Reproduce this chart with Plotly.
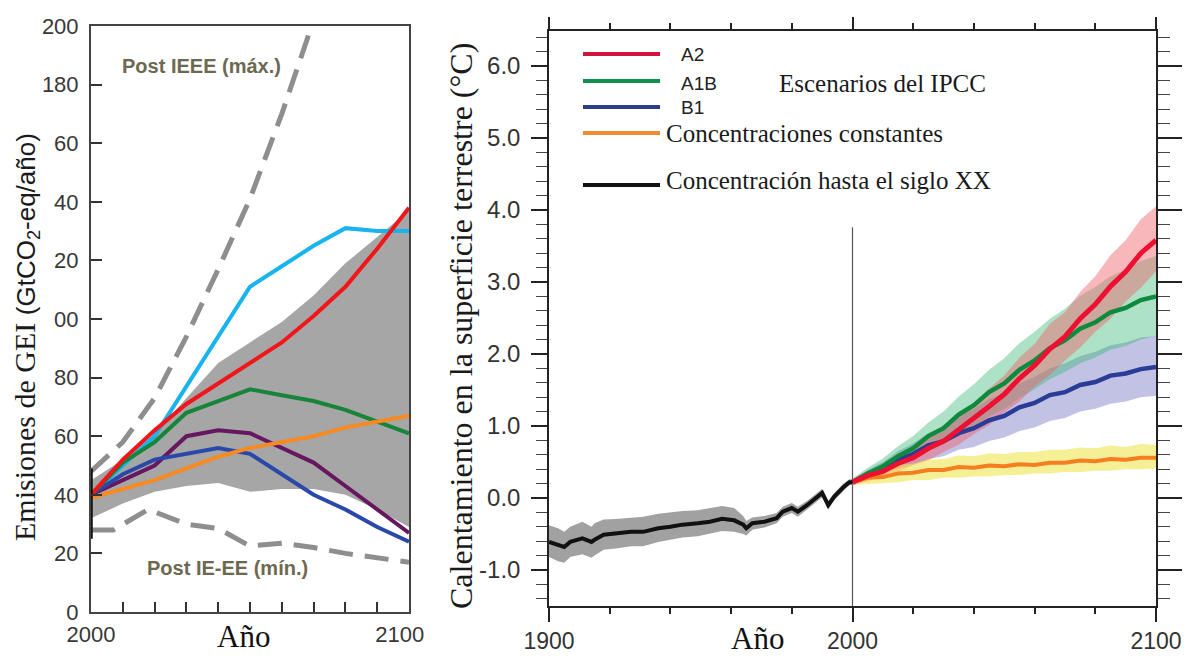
import plotly.graph_objects as go

W, H = 1190, 658


def px(x):
    return x / W


def py(y):
    return 1 - y / H


# ---------------- Left panel data (GtCO2-eq / year) ----------------
years_l = [2000, 2010, 2020, 2030, 2040, 2050, 2060, 2070, 2080, 2090, 2100]
cyan_l = [40, 50, 60, 77, 94, 111, 118, 125, 131, 130, 130]
red_l = [40, 52, 62, 71, 78, 85, 92, 101, 111, 124, 138]
green_l = [40, 51, 58, 68, 72, 76, 74, 72, 69, 65, 61]
purple_l = [40, 45, 50, 60, 62, 61, 56, 51, 43, 35, 27]
blue_l = [40, 47, 52, 54, 56, 54, 47, 40, 35, 29, 24]
orange_l = [39, 42, 45, 49, 53, 56, 58, 60, 63, 65, 67]
band_up_l = [45, 52, 61, 73, 85, 92, 99, 108, 119, 128, 137]
band_lo_l = [32, 37, 41, 43, 44, 41, 42, 42, 40, 35, 29]
years_dmax = [2000, 2010, 2020, 2030, 2040, 2050, 2060, 2070]
dash_max = [48, 58, 73, 94, 117, 141, 170, 202]
years_dmin = [2000, 2007, 2018, 2030, 2040, 2050, 2060, 2070, 2080, 2090, 2100]
dash_min = [28, 28, 35, 30, 28.5, 22.5, 23.5, 22, 20, 18.5, 17]
bar2000_year = [2000, 2000]
bar2000_val = [25, 49]
xticks_l = [2000, 2100]
xticktext_l = ["2000", "2100\u00a0\u00a0\u00a0"]
yticks_l = [0, 20, 40, 60, 80, 100, 120, 140, 160, 180, 200]
yticktext_l = ["0", "20", "40", "60", "80", "00", "20", "40", "60", "180", "200"]

# ---------------- Right panel data (°C) ----------------
years_h = [1900, 1903, 1905, 1907, 1911, 1914, 1915, 1918, 1922, 1927, 1931, 1936, 1940,
           1944, 1949, 1953, 1957, 1961, 1964, 1965, 1967, 1971, 1975, 1977, 1980, 1982,
           1985, 1988, 1990, 1992, 1994, 1997, 1999, 2000]
hist_m = [-0.61, -0.65, -0.68, -0.61, -0.56, -0.61, -0.58, -0.51, -0.49, -0.47, -0.47, -0.42,
          -0.40, -0.37, -0.35, -0.33, -0.29, -0.31, -0.37, -0.42, -0.35, -0.33, -0.28, -0.19,
          -0.14, -0.19, -0.10, 0.0, 0.07, -0.10, 0.02, 0.15, 0.22, 0.22]
hist_u = [-0.38, -0.42, -0.47, -0.40, -0.33, -0.40, -0.35, -0.30, -0.29, -0.27, -0.26, -0.22,
          -0.20, -0.18, -0.17, -0.14, -0.11, -0.14, -0.25, -0.32, -0.27, -0.25, -0.21, -0.12,
          -0.07, -0.12, -0.04, 0.06, 0.13, -0.04, 0.07, 0.20, 0.26, 0.26]
hist_lo = [-0.82, -0.88, -0.90, -0.82, -0.78, -0.83, -0.80, -0.72, -0.70, -0.67, -0.67, -0.61,
           -0.58, -0.55, -0.53, -0.50, -0.46, -0.47, -0.50, -0.52, -0.44, -0.41, -0.35, -0.26,
           -0.21, -0.26, -0.16, -0.06, 0.01, -0.16, -0.03, 0.10, 0.18, 0.18]

years_f = [2000, 2005, 2010, 2015, 2020, 2025, 2030, 2035, 2040, 2045, 2050,
           2055, 2060, 2065, 2070, 2075, 2080, 2085, 2090, 2095, 2100]
a2_m = [0.22, 0.31, 0.37, 0.48, 0.56, 0.69, 0.79, 0.95, 1.09, 1.27, 1.44, 1.66, 1.84, 2.07,
        2.24, 2.49, 2.69, 2.94, 3.14, 3.40, 3.58]
a2_u = [0.26, 0.38, 0.46, 0.59, 0.69, 0.85, 0.97, 1.15, 1.32, 1.52, 1.70, 1.95, 2.14, 2.42,
        2.58, 2.86, 3.08, 3.37, 3.58, 3.87, 4.05]
a2_lo = [0.18, 0.23, 0.31, 0.36, 0.46, 0.52, 0.64, 0.74, 0.89, 1.01, 1.19, 1.34, 1.55, 1.71,
         1.91, 2.09, 2.31, 2.49, 2.73, 2.92, 3.15]
a1b_m = [0.22, 0.34, 0.44, 0.58, 0.69, 0.86, 0.97, 1.16, 1.29, 1.47, 1.59, 1.78, 1.91, 2.08,
         2.19, 2.35, 2.44, 2.58, 2.64, 2.75, 2.80]
a1b_u = [0.27, 0.42, 0.55, 0.72, 0.86, 1.05, 1.20, 1.41, 1.58, 1.78, 1.94, 2.15, 2.31, 2.49,
         2.63, 2.81, 2.93, 3.08, 3.17, 3.29, 3.36]
a1b_lo = [0.17, 0.26, 0.33, 0.44, 0.52, 0.65, 0.74, 0.89, 1.00, 1.14, 1.24, 1.39, 1.51, 1.65,
          1.75, 1.87, 1.95, 2.06, 2.11, 2.20, 2.25]
b1_m = [0.22, 0.33, 0.41, 0.53, 0.61, 0.73, 0.79, 0.90, 0.97, 1.08, 1.14, 1.26, 1.32, 1.43,
        1.47, 1.57, 1.61, 1.70, 1.73, 1.79, 1.82]
b1_u = [0.26, 0.39, 0.50, 0.65, 0.76, 0.90, 1.00, 1.14, 1.24, 1.37, 1.46, 1.59, 1.68, 1.80,
        1.87, 1.97, 2.03, 2.12, 2.16, 2.23, 2.25]
b1_lo = [0.18, 0.27, 0.32, 0.41, 0.46, 0.54, 0.58, 0.67, 0.71, 0.79, 0.84, 0.93, 0.98, 1.07,
         1.11, 1.20, 1.24, 1.31, 1.34, 1.40, 1.42]
const_m = [0.22, 0.28, 0.29, 0.34, 0.35, 0.39, 0.39, 0.43, 0.42, 0.45, 0.44, 0.47, 0.46, 0.49,
           0.49, 0.52, 0.51, 0.54, 0.53, 0.56, 0.56]
const_u = [0.26, 0.36, 0.39, 0.46, 0.48, 0.53, 0.54, 0.59, 0.58, 0.62, 0.61, 0.64, 0.64, 0.67,
           0.67, 0.70, 0.69, 0.73, 0.71, 0.75, 0.74]
const_lo = [0.18, 0.19, 0.21, 0.22, 0.25, 0.25, 0.28, 0.28, 0.30, 0.30, 0.32, 0.32, 0.34, 0.34,
            0.36, 0.36, 0.38, 0.38, 0.40, 0.40, 0.41]

yticks_r = [-1, 0, 1, 2, 3, 4, 5, 6]
yticktext_r = ["-1.0", "0.0", "1.0", "2.0", "3.0", "4.0", "5.0", "6.0"]
xticks_r = [1900, 2000, 2100]
xticktext_r = ["1900", "2000", "2100"]

fig = go.Figure()


def band(xs, up, lo, color, xa, ya):
    fig.add_trace(go.Scatter(x=list(xs) + list(xs)[::-1], y=list(up) + list(lo)[::-1],
                             fill="toself", fillcolor=color, line=dict(width=0),
                             mode="lines", hoverinfo="skip", xaxis=xa, yaxis=ya))


def line(xs, ys, color, width, xa, ya, dash=None):
    fig.add_trace(go.Scatter(x=xs, y=ys, mode="lines",
                             line=dict(color=color, width=width, dash=dash),
                             hoverinfo="skip", xaxis=xa, yaxis=ya))


# ---- left panel ----
band(years_l, band_up_l, band_lo_l, "#a6a6a6", "x", "y")
line(years_dmax, dash_max, "#8e8e8e", 5, "x", "y", dash="24px,12px")
line(years_dmin, dash_min, "#8e8e8e", 5, "x", "y", dash="24px,12px")
line(years_l, cyan_l, "#19b4ee", 4, "x", "y")
line(years_l, purple_l, "#66175f", 4, "x", "y")
line(years_l, blue_l, "#2a48aa", 4, "x", "y")
line(years_l, green_l, "#17843a", 4, "x", "y")
line(years_l, orange_l, "#f78a22", 4, "x", "y")
line(years_l, red_l, "#f0161a", 4, "x", "y")
line(bar2000_year, bar2000_val, "#111111", 3.5, "x", "y")

# ---- right panel ----
band(years_h, hist_u, hist_lo, "rgba(125,125,125,0.72)", "x2", "y2")
band(years_f, b1_u, b1_lo, "rgba(120,120,195,0.45)", "x2", "y2")
band(years_f, a1b_u, a1b_lo, "rgba(60,185,120,0.42)", "x2", "y2")
band(years_f, a2_u, a2_lo, "rgba(240,95,105,0.45)", "x2", "y2")
band(years_f, const_u, const_lo, "rgba(238,228,80,0.6)", "x2", "y2")
line(years_f, const_m, "#f57f20", 4, "x2", "y2")
line(years_f, b1_m, "#2a3c96", 4.5, "x2", "y2")
line(years_f, a1b_m, "#0e8a3e", 4.5, "x2", "y2")
line(years_f, a2_m, "#ee1030", 5, "x2", "y2")
line(years_h, hist_m, "#111111", 4, "x2", "y2")

# invisible trace so the mirrored top/right axes of the right panel exist
fig.add_trace(go.Scatter(x=[1900], y=[0], mode="markers", marker=dict(opacity=0),
                         hoverinfo="skip", xaxis="x3", yaxis="y3"))

tickfont_l = dict(family="Liberation Sans", size=22, color="#383838")
tickfont_r = dict(family="Liberation Sans", size=24, color="#333333")
tickfont_rx = dict(family="Liberation Sans", size=23, color="#333333")

fig.update_layout(
    template="none",
    width=W, height=H, margin=dict(l=0, r=0, t=0, b=0, pad=0, autoexpand=False),
    paper_bgcolor="white", plot_bgcolor="white", showlegend=False,
    font=dict(family="Liberation Sans", color="#333"),
    xaxis=dict(domain=[px(91), px(409)], range=[2000, 2100], anchor="y", automargin=False,
               tickmode="array", tickvals=xticks_l, ticktext=xticktext_l,
               ticks="inside", ticklen=10, tickwidth=2, tickcolor="#333",
               minor=dict(tickmode="linear", tick0=2000, dtick=10, ticklen=10, tickwidth=2,
                          tickcolor="#333", ticks="inside", showgrid=False),
               showline=True, linecolor="#444", linewidth=2, mirror=True,
               showgrid=False, zeroline=False, tickfont=tickfont_l, ticklabelstandoff=2),
    yaxis=dict(domain=[py(612), py(26)], range=[0, 200], anchor="x", automargin=False,
               tickmode="array", tickvals=yticks_l, ticktext=yticktext_l,
               ticks="inside", ticklen=11, tickwidth=2, tickcolor="#333",
               showline=True, linecolor="#444", linewidth=2, mirror=True,
               showgrid=False, zeroline=False, tickfont=tickfont_l, ticklabelstandoff=6),
    xaxis2=dict(domain=[px(549), px(1156)], range=[1900, 2100], anchor="y2", automargin=False,
                tickmode="array", tickvals=xticks_r, ticktext=xticktext_r,
                ticks="outside", ticklen=14, tickwidth=2, tickcolor="#222",
                minor=dict(tickmode="linear", tick0=1900, dtick=20, ticklen=6,
                           tickwidth=1.5, tickcolor="#222", ticks="outside", showgrid=False),
                showline=True, linecolor="#222", linewidth=1.5,
                showgrid=False, zeroline=False, tickfont=tickfont_rx, ticklabelstandoff=0),
    xaxis3=dict(overlaying="x2", side="top", anchor="y2", range=[1900, 2100], automargin=False,
                tickmode="array", tickvals=xticks_r, showticklabels=False,
                ticks="outside", ticklen=12, tickwidth=2, tickcolor="#222",
                minor=dict(tickmode="linear", tick0=1900, dtick=20, ticklen=6,
                           tickwidth=1.5, tickcolor="#222", ticks="outside", showgrid=False),
                showline=True, linecolor="#222", linewidth=1.5,
                showgrid=False, zeroline=False),
    yaxis2=dict(domain=[py(606), py(31)], range=[-1.5, 6.486], anchor="x2", automargin=False,
                tickmode="array", tickvals=yticks_r, ticktext=yticktext_r,
                ticks="outside", ticklen=16, tickwidth=1.5, tickcolor="#222",
                minor=dict(tickmode="linear", tick0=0, dtick=0.2, ticklen=11,
                           tickwidth=1.2, tickcolor="#444", ticks="outside", showgrid=False),
                showline=True, linecolor="#222", linewidth=1.5,
                showgrid=False, zeroline=False, tickfont=tickfont_r, ticklabelstandoff=6),
    yaxis3=dict(overlaying="y2", side="right", anchor="x2", range=[-1.5, 6.486],
                automargin=False,
                tickmode="array", tickvals=yticks_r, showticklabels=False,
                ticks="outside", ticklen=24, tickwidth=1.5, tickcolor="#222",
                minor=dict(tickmode="linear", tick0=0, dtick=0.2, ticklen=12,
                           tickwidth=1.2, tickcolor="#444", ticks="outside", showgrid=False),
                showline=True, linecolor="#222", linewidth=1.5,
                showgrid=False, zeroline=False),
)

# vertical marker at year 2000 in right panel
fig.add_shape(type="line", xref="x2", yref="y2", x0=2000, x1=2000, y0=-1.5, y1=3.76,
              line=dict(color="#555", width=1.2), layer="below")

# legend samples (right panel)
legend_items = [("#d0143c", 54), ("#109050", 81), ("#2c3c8c", 107), ("#f08a30", 133), ("#111111", 185)]
for col, yy in legend_items:
    fig.add_shape(type="line", xref="paper", yref="paper", x0=px(583), x1=px(660),
                  y0=py(yy), y1=py(yy), line=dict(color=col, width=4))

serif = "Liberation Serif"
ann = []


def add_text(text, x, y, size, family, color="#1a1a1a", xanchor="center", angle=0):
    ann.append(dict(text=text, x=px(x), y=py(y), xref="paper", yref="paper",
                    showarrow=False, xanchor=xanchor, yanchor="middle", textangle=angle,
                    font=dict(size=size, family=family, color=color)))


add_text("A2", 679, 55, 19, "Liberation Sans", "#222", "left")
add_text("A1B", 679, 83, 19, "Liberation Sans", "#222", "left")
add_text("B1", 679, 107, 19, "Liberation Sans", "#222", "left")
add_text("Escenarios del IPCC", 777, 83, 25, serif, "#1a1a1a", "left")
add_text("Concentraciones constantes", 664, 133, 25, serif, "#1a1a1a", "left")
add_text("Concentración hasta el siglo XX", 664, 180, 25, serif, "#1a1a1a", "left")

add_text("<b>Post IEEE (máx.)</b>", 201, 66, 20, "Liberation Sans", "#6d6950")
add_text("<b>Post IE-EE (mín.)</b>", 227, 568, 20, "Liberation Sans", "#6d6950")

add_text("Año", 243, 636, 31, serif, "#111")
add_text("Año", 757, 638, 31, serif, "#111")

add_text('<span style="font-family:Liberation Serif;font-size:30px">Emisiones de GEI </span>'
         '(GtCO<sub>2</sub>-eq/año)', 26, 337, 26, "Liberation Sans", "#1a1a1a", angle=-90)
add_text("Calentamiento en la superficie terrestre (°C)", 461, 326, 32, serif, "#1a1a1a",
         angle=-90)

fig.update_layout(annotations=ann)
fig.write_html("out.html")
